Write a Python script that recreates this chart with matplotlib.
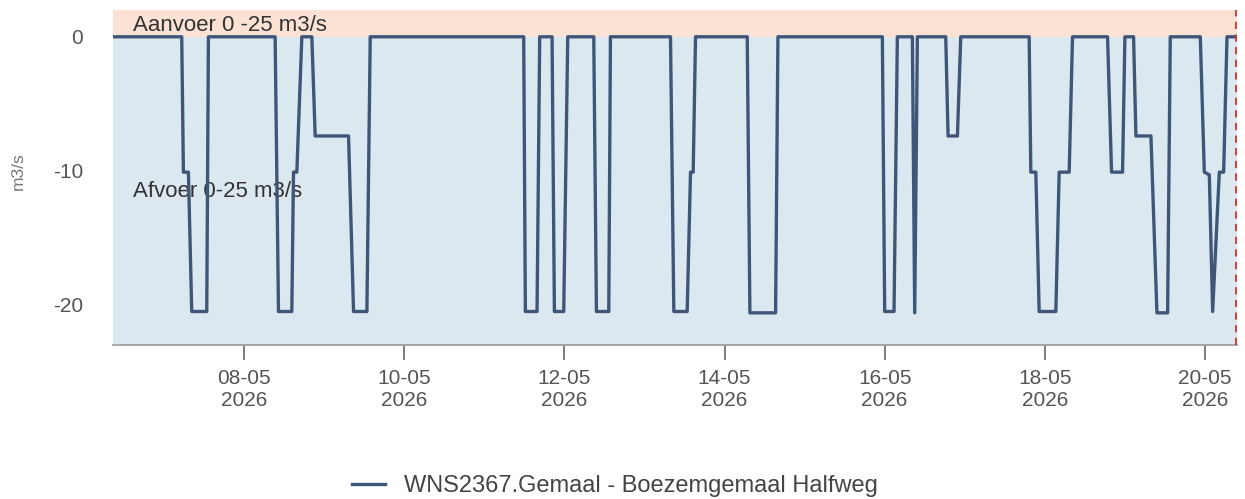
import pandas as pd
import matplotlib.pyplot as plt
import matplotlib.dates as mdates

# pump discharge readings (m3/s), negative = afvoer
times = [
    "2026-05-06 08:42", "2026-05-07 05:18", "2026-05-07 05:48", "2026-05-07 07:18",
    "2026-05-07 08:18", "2026-05-07 12:48", "2026-05-07 13:18", "2026-05-08 09:18",
    "2026-05-08 10:18", "2026-05-08 14:18", "2026-05-08 14:48", "2026-05-08 15:48",
    "2026-05-08 17:18", "2026-05-08 20:18", "2026-05-08 21:18", "2026-05-09 07:18",
    "2026-05-09 08:48", "2026-05-09 12:48", "2026-05-09 13:48", "2026-05-11 11:48",
    "2026-05-11 12:18", "2026-05-11 15:48", "2026-05-11 16:36", "2026-05-11 20:18",
    "2026-05-11 21:00", "2026-05-11 23:48", "2026-05-12 01:00", "2026-05-12 08:48",
    "2026-05-12 09:36", "2026-05-12 13:18", "2026-05-12 13:48", "2026-05-13 07:48",
    "2026-05-13 08:48", "2026-05-13 12:48", "2026-05-13 13:48", "2026-05-13 14:36",
    "2026-05-13 15:18", "2026-05-14 06:48", "2026-05-14 07:36", "2026-05-14 15:18",
    "2026-05-14 16:00", "2026-05-15 23:18", "2026-05-16 00:00", "2026-05-16 02:48",
    "2026-05-16 03:48", "2026-05-16 08:18", "2026-05-16 09:00", "2026-05-16 09:48",
    "2026-05-16 18:18", "2026-05-16 19:00", "2026-05-16 21:48", "2026-05-16 22:48",
    "2026-05-17 19:18", "2026-05-17 19:48", "2026-05-17 21:18", "2026-05-17 22:18",
    "2026-05-18 03:18", "2026-05-18 04:18", "2026-05-18 07:18", "2026-05-18 08:18",
    "2026-05-18 18:48", "2026-05-18 20:00", "2026-05-18 23:18", "2026-05-19 00:00",
    "2026-05-19 02:36", "2026-05-19 03:18", "2026-05-19 07:48", "2026-05-19 09:36",
    "2026-05-19 12:48", "2026-05-19 13:36", "2026-05-19 22:36", "2026-05-19 23:48",
    "2026-05-20 01:18", "2026-05-20 02:18", "2026-05-20 04:18", "2026-05-20 05:36",
    "2026-05-20 06:36", "2026-05-20 09:18",
]
values = [
    0, 0, -10.1, -10.1,
    -20.5, -20.5, 0, 0,
    -20.5, -20.5, -10.1, -10.1,
    0, 0, -7.4, -7.4,
    -20.5, -20.5, 0, 0,
    -20.5, -20.5, 0, 0,
    -20.5, -20.5, 0, 0,
    -20.5, -20.5, 0, 0,
    -20.5, -20.5, -10.1, -10.1,
    0, 0, -20.6, -20.6,
    0, 0, -20.5, -20.5,
    0, 0, -20.6, 0,
    0, -7.4, -7.4, 0,
    0, -10.1, -10.1, -20.5,
    -20.5, -10.1, -10.1, 0,
    0, -10.1, -10.1, 0,
    0, -7.4, -7.4, -20.6,
    -20.6, 0, 0, -10.1,
    -10.3, -20.5, -10.1, -10.1,
    0, 0,
]
now = "2026-05-20 09:18"
x_start, x_end = "2026-05-06 08:42", "2026-05-20 09:36"
y_min, y_max = -23, 2
tick_days = [8, 10, 12, 14, 16, 18, 20]
series_name = "WNS2367.Gemaal - Boezemgemaal Halfweg"

plt.rcParams['font.family'] = ['Liberation Sans', 'DejaVu Sans']
plt.rcParams['axes.unicode_minus'] = False

fig = plt.figure(figsize=(12.45, 4.99), dpi=100)
ax = fig.add_axes([113 / 1245, 1 - 345 / 499, (1237 - 113) / 1245, (345 - 10) / 499])

# aanvoer / afvoer bands
ax.axhspan(0, y_max, color='#fbe2d5', lw=0, zorder=0)
ax.axhspan(y_min, 0, color='#dbe8f0', lw=0, zorder=0)

t = pd.to_datetime(times)
ax.plot(t, values, color='#3f5679', lw=2.4, label=series_name, zorder=3)
ax.axvline(pd.Timestamp(now), color='#d9302a', ls=(0, (4, 3)), lw=1.3, zorder=4)

ax.text(0.018, 0.955, "Aanvoer 0 -25 m3/s", transform=ax.transAxes, fontsize=16,
        color='#333333', va='center', ha='left', zorder=2)
ax.text(0.018, 0.457, "Afvoer 0-25 m3/s", transform=ax.transAxes, fontsize=16,
        color='#333333', va='center', ha='left', zorder=2)

ax.set_xlim(pd.Timestamp(x_start), pd.Timestamp(x_end))
ax.set_ylim(y_min, y_max)
ax.set_yticks([0, -10, -20])
ax.xaxis.set_major_locator(mdates.DayLocator(bymonthday=tick_days))
ax.xaxis.set_major_formatter(mdates.DateFormatter('%d-%m\n%Y'))

for s in ['top', 'right', 'left']:
    ax.spines[s].set_visible(False)
ax.spines['bottom'].set_color('#9a9a9a')
ax.spines['bottom'].set_linewidth(1.2)
ax.tick_params(axis='x', length=11, width=1.2, color='#666666', pad=6,
               labelsize=15, labelcolor='#555555')
ax.tick_params(axis='y', length=0, pad=21.5, labelsize=15, labelcolor='#555555')
ax.set_ylabel("m3/s", fontsize=12.5, color='#777777')
ax.yaxis.set_label_coords(-0.078, 0.52)

fig.legend(loc='center', bbox_to_anchor=(0.494, 0.026), frameon=False,
           fontsize=17, handlelength=1.4, labelcolor='#444444')

fig.savefig("out.png", dpi=100)
